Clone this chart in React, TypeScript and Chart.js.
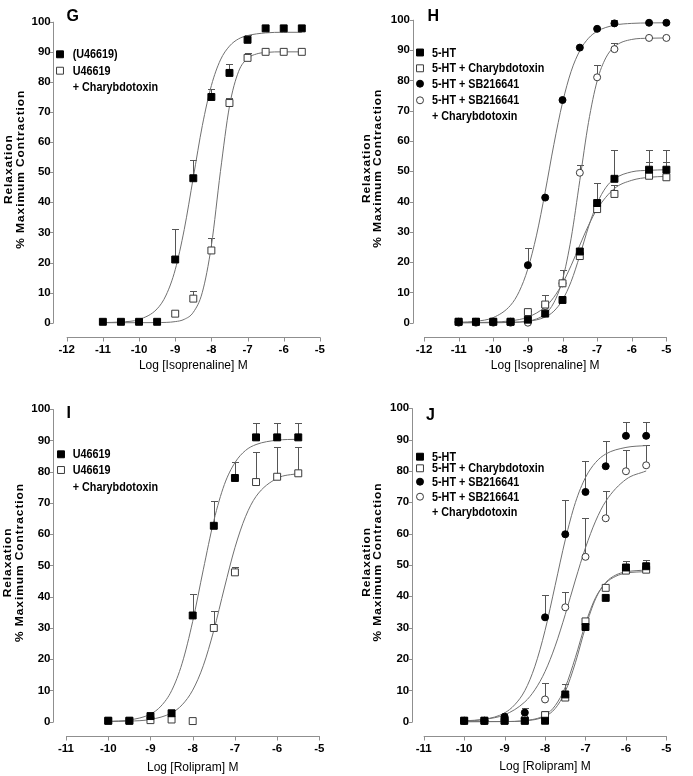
import React, { useEffect, useRef } from "react";
import { Chart, registerables } from "chart.js";

Chart.register(...registerables);

// ===================== DATA =====================
// Shared axis ranges / tick steps
const Y_RANGE = [0, 100];
const Y_STEP = 10;
const G_X_RANGE = [-12, -5];
const H_X_RANGE = [-12, -5];
const I_X_RANGE = [-11, -5];
const J_X_RANGE = [-11, -5];
const X_STEP = 1;

const Y_TITLE = ["Relaxation", "% Maximum Contraction"];
const ISO_TITLE = "Log [Isoprenaline] M";
const ROLI_TITLE = "Log [Rolipram] M";

// ---- Panel G (isoprenaline, U46619) ----
const G_U_DOSE = [-11, -10.5, -10, -9.5, -9, -8.5, -8, -7.5, -7, -6.5, -6, -5.5];
const G_U_MEAN = [0.3, 0.3, 0.3, 0.3, 21, 48, 75, 83, 94, 97.8, 97.8, 97.8];
const G_U_SEM = [0, 0, 0, 0, 10, 6, 2.5, 3, 1.5, 0, 0, 0];
const G_C_DOSE = [-9, -8.5, -8, -7.5, -7, -6.5, -6, -5.5];
const G_C_MEAN = [3, 8, 24, 73, 88, 90, 90, 90];
const G_C_SEM = [1, 2.5, 4, 1.5, 1.5, 0, 0, 0];
const G_U_FIT_X = [-11, -10.5, -10, -9.5, -9.25, -9, -8.75, -8.5, -8.25, -8, -7.75, -7.5, -7.25, -7, -6.5, -6, -5.5];
const G_U_FIT_Y = [0.05, 0.24, 1.07, 4.6, 9.2, 17.6, 31.0, 48.25, 65.5, 78.8, 87.3, 91.9, 94.3, 95.4, 96.3, 96.5, 96.5];
const G_C_FIT_X = [-11, -10, -9.5, -9, -8.75, -8.5, -8.25, -8, -7.75, -7.5, -7.25, -7, -6.75, -6.5, -6, -5.5];
const G_C_FIT_Y = [0, 0, 0.04, 0.36, 1.12, 3.45, 10.1, 25.6, 50.2, 71.9, 83.4, 87.8, 89.3, 89.8, 90, 90];
const G_LEGEND = ["(U46619)", "U46619", "+ Charybdotoxin"];

// ---- Panel H (isoprenaline, 5-HT) ----
const H_DOSE = [-11, -10.5, -10, -9.5, -9, -8.5, -8, -7.5, -7, -6.5, -5.5, -5];
const H_5HT_MEAN = [0.3, 0.3, 0.3, 0.3, 1, 3, 7.5, 23.5, 39.5, 47.5, 50.5, 50.5];
const H_5HT_SEM = [0, 0, 0, 0, 0, 0, 0, 0, 6.5, 9.5, 6.5, 6.5];
const H_CTX_MEAN = [0.3, 0.3, 0.3, 0.3, 3.5, 6, 13, 22, 37.5, 42.5, 48.5, 48];
const H_CTX_SEM = [0, 0, 0, 0, 0.5, 3, 4.5, 0, 0, 3, 4.5, 5];
const H_SB_MEAN = [0.3, 0.3, 0.3, 0.3, 19, 41.3, 73.5, 90.8, 97, 98.8, 99, 99];
const H_SB_SEM = [0, 0, 0, 0, 5.5, 0, 0, 0, 0, 1, 0, 0];
const H_SBC_MEAN = [0, 0, 0, 0, 0, 5.5, 13, 49.5, 81, 90.3, 94, 94];
const H_SBC_SEM = [0, 0, 0, 0, 0, 0, 0, 2.5, 4, 2, 0, 0];
const H_SB_FIT_X = [-11, -10.5, -10, -9.5, -9.25, -9, -8.75, -8.5, -8.25, -8, -7.75, -7.5, -7.25, -7, -6.5, -6, -5.5, -5];
const H_SB_FIT_Y = [0.14, 0.48, 1.69, 5.75, 10.3, 17.8, 28.9, 43.2, 58.8, 72.6, 83.0, 89.8, 93.9, 96.2, 98.2, 98.8, 98.95, 99];
const H_SBC_FIT_X = [-11, -10, -9.5, -9, -8.75, -8.5, -8.25, -8, -7.75, -7.5, -7.25, -7, -6.75, -6.5, -6, -5.5, -5];
const H_SBC_FIT_Y = [0, 0.02, 0.09, 0.53, 1.24, 2.88, 6.6, 14.2, 27.9, 47, 66.1, 79.8, 87.4, 91.1, 93.5, 93.9, 94];
const H_5HT_FIT_X = [-11, -10, -9.5, -9, -8.5, -8.25, -8, -7.75, -7.5, -7.25, -7, -6.75, -6.5, -6, -5.5, -5];
const H_5HT_FIT_Y = [0, 0.02, 0.1, 0.43, 1.87, 3.8, 7.5, 13.6, 22.2, 31.6, 39.4, 44.6, 47.5, 49.8, 50.3, 50.5];
const H_CTX_FIT_X = [-11, -10.5, -10, -9.5, -9, -8.5, -8.25, -8, -7.75, -7.5, -7.25, -7, -6.5, -6, -5.5, -5];
const H_CTX_FIT_Y = [0.02, 0.07, 0.2, 0.62, 1.83, 5.2, 8.4, 13.0, 18.9, 25.6, 32.1, 37.5, 44.3, 47.0, 48.0, 48.3];
const H_LEGEND = ["5-HT", "5-HT + Charybdotoxin", "5-HT + SB216641", "5-HT + SB216641", "+ Charybdotoxin"];

// ---- Panel I (rolipram, U46619) ----
const I_DOSE = [-10, -9.5, -9, -8.5, -8, -7.5, -7, -6.5, -6, -5.5];
const I_U_MEAN = [0.3, 0.3, 1.8, 2.7, 34, 62.7, 78, 91, 91, 91];
const I_U_SEM = [0, 0, 0, 0, 6.8, 8, 5, 4.5, 4.5, 4.5];
const I_C_MEAN = [0.3, 0.3, 0.5, 0.7, 0.2, 30, 47.8, 76.7, 78.4, 79.5];
const I_C_SEM = [0, 0, 0, 0, 0, 5.5, 1.6, 9.5, 9.5, 8.5];
const I_U_FIT_X = [-10, -9.5, -9, -8.75, -8.5, -8.25, -8, -7.75, -7.5, -7.25, -7, -6.75, -6.5, -6, -5.5];
const I_U_FIT_Y = [0.12, 0.55, 2.43, 5.0, 9.9, 18.7, 32.1, 48.6, 64.3, 75.9, 82.9, 86.8, 88.7, 90.1, 90.4];
const I_C_FIT_X = [-10, -9.5, -9, -8.5, -8.25, -8, -7.75, -7.5, -7.25, -7, -6.75, -6.5, -6, -5.5];
const I_C_FIT_Y = [0.05, 0.18, 0.72, 2.8, 5.4, 10.1, 17.9, 29.2, 42.8, 55.7, 65.6, 72.1, 77.9, 79.45];
const I_LEGEND = ["U46619", "U46619", "+ Charybdotoxin"];

// ---- Panel J (rolipram, 5-HT) ----
const J_DOSE = [-10, -9.5, -9, -8.5, -8, -7.5, -7, -6.5, -6, -5.5];
const J_5HT_MEAN = [0.3, 0.3, 0.3, 0.3, 0.3, 8.7, 30.2, 39.5, 49.2, 49.6];
const J_5HT_SEM = [0, 0, 0, 0, 0, 3.2, 0, 0, 2, 2];
const J_CTX_MEAN = [0.3, 0.3, 0.3, 0.3, 2.1, 7.7, 32, 42.7, 48.2, 48.5];
const J_CTX_SEM = [0, 0, 0, 0, 1.4, 0, 0, 0, 0, 0];
const J_SB_MEAN = [0.3, 0.3, 1.6, 2.9, 33.3, 59.8, 73.3, 81.5, 91.2, 91.2];
const J_SB_SEM = [0, 0, 0, 1.5, 7.2, 10.9, 9.8, 8, 4.4, 4.4];
const J_SBC_MEAN = [0.3, 0.3, 0.5, 1, 7.1, 36.5, 52.6, 64.9, 79.9, 81.8];
const J_SBC_SEM = [0, 0, 0, 0, 5.3, 4.8, 12.3, 8.6, 6.9, 6.4];
const J_SB_FIT_X = [-10, -9.5, -9, -8.75, -8.5, -8.25, -8, -7.75, -7.5, -7.25, -7, -6.75, -6.5, -6, -5.5];
const J_SB_FIT_Y = [0.19, 0.73, 2.8, 5.4, 9.9, 17.7, 29.1, 43.5, 58.0, 69.9, 77.9, 82.7, 85.4, 87.5, 88.1];
const J_SBC_FIT_X = [-10, -9.5, -9, -8.5, -8.25, -8, -7.75, -7.5, -7.25, -7, -6.75, -6.5, -6, -5.5];
const J_SBC_FIT_Y = [0.26, 0.77, 2.2, 6.3, 10.2, 16.0, 24.1, 34.2, 45.2, 55.5, 64.0, 70.3, 77.3, 80.0];
const J_SQ_FIT_X = [-10, -9, -8.5, -8, -7.75, -7.5, -7.25, -7, -6.75, -6.5, -6.25, -6, -5.5];
const J_5HT_FIT_Y = [0, 0.04, 0.27, 1.7, 4.2, 9.6, 18.8, 30.1, 39.2, 44.4, 46.8, 47.8, 48.4];
const J_CTX_FIT_Y = [0, 0.06, 0.35, 2.1, 5.1, 11.0, 20.5, 31.3, 39.6, 44.2, 46.4, 47.4, 47.9];
const J_LEGEND = ["5-HT", "5-HT + Charybdotoxin", "5-HT + SB216641", "5-HT + SB216641", "+ Charybdotoxin"];

// ===================== STYLE =====================
const SANS = "'Liberation Sans', Arial, Helvetica, sans-serif";
const AXIS_GRAY = "#8f8f8f";
const CURVE_GRAY = "#707070";
const ERR_GRAY = "#555555";
const TEXT_SQUEEZE = 0.83;

type MarkerKey = "sq" | "osq" | "ci" | "oci";
const MARKERS: Record<MarkerKey, { shape: string; r: number; fill: string; stroke: string }> = {
  sq: { shape: "rect", r: 4.9, fill: "#000000", stroke: "#000000" },
  osq: { shape: "rect", r: 4.9, fill: "#ffffff", stroke: "#3a3a3a" },
  ci: { shape: "circle", r: 3.5, fill: "#000000", stroke: "#000000" },
  oci: { shape: "circle", r: 3.5, fill: "#ffffff", stroke: "#3a3a3a" },
};

type Series = { dose: number[]; mean: number[]; sem: number[]; style: MarkerKey };
type Curve = { x: number[]; y: number[] };
type LegendRow = { style: MarkerKey | null; text: string; y: number };
type PanelCfg = {
  letter: string;
  letterX: number;
  letterY: number;
  left: number;
  top: number;
  w: number;
  h: number;
  area: { l: number; t: number; r: number; b: number };
  xRange: number[];
  xTitle: string;
  xTitlePad: number;
  yGap: number;
  xGap: number;
  yTickPad: number;
  xTickPad: number;
  yTitleX: number[];
  legendMarkerX: number;
  legendTextX: number;
  legend: LegendRow[];
  series: Series[];
  curves: Curve[];
};

const PANELS: PanelCfg[] = [
  {
    letter: "G", letterX: 66.5, letterY: 16,
    left: 0, top: 0, w: 346, h: 388,
    area: { l: 66.7, t: 7, r: 328, b: 322.7 },
    xRange: G_X_RANGE, xTitle: ISO_TITLE, xTitlePad: 15,
    yGap: 13.4, xGap: 14, yTickPad: 16, xTickPad: 21,
    yTitleX: [9, 20.7],
    legendMarkerX: 60, legendTextX: 72.7,
    legend: [
      { style: "sq", text: G_LEGEND[0], y: 54.3 },
      { style: "osq", text: G_LEGEND[1], y: 70.7 },
      { style: null, text: G_LEGEND[2], y: 86.7 },
    ],
    series: [
      { dose: G_U_DOSE, mean: G_U_MEAN, sem: G_U_SEM, style: "sq" },
      { dose: G_C_DOSE, mean: G_C_MEAN, sem: G_C_SEM, style: "osq" },
    ],
    curves: [
      { x: G_U_FIT_X, y: G_U_FIT_Y },
      { x: G_C_FIT_X, y: G_C_FIT_Y },
    ],
  },
  {
    letter: "H", letterX: 81.5, letterY: 16.2,
    left: 346, top: 0, w: 347, h: 388,
    area: { l: 78, t: 7, r: 340, b: 322.7 },
    xRange: H_X_RANGE, xTitle: ISO_TITLE, xTitlePad: 15,
    yGap: 11.3, xGap: 14, yTickPad: 14, xTickPad: 21.5,
    yTitleX: [20.7, 31.7],
    legendMarkerX: 74, legendTextX: 86,
    legend: [
      { style: "sq", text: H_LEGEND[0], y: 52.5 },
      { style: "osq", text: H_LEGEND[1], y: 68.3 },
      { style: "ci", text: H_LEGEND[2], y: 83.7 },
      { style: "oci", text: H_LEGEND[3], y: 100.3 },
      { style: null, text: H_LEGEND[4], y: 115.5 },
    ],
    series: [
      { dose: H_DOSE, mean: H_5HT_MEAN, sem: H_5HT_SEM, style: "sq" },
      { dose: H_DOSE, mean: H_SB_MEAN, sem: H_SB_SEM, style: "ci" },
      { dose: H_DOSE, mean: H_CTX_MEAN, sem: H_CTX_SEM, style: "osq" },
      { dose: H_DOSE, mean: H_SBC_MEAN, sem: H_SBC_SEM, style: "oci" },
    ],
    curves: [
      { x: H_SB_FIT_X, y: H_SB_FIT_Y },
      { x: H_SBC_FIT_X, y: H_SBC_FIT_Y },
      { x: H_5HT_FIT_X, y: H_5HT_FIT_Y },
      { x: H_CTX_FIT_X, y: H_CTX_FIT_Y },
    ],
  },
  {
    letter: "I", letterX: 66.5, letterY: 25.3,
    left: 0, top: 388, w: 346, h: 388,
    area: { l: 66, t: 18.7, r: 328, b: 333.7 },
    xRange: I_X_RANGE, xTitle: ROLI_TITLE, xTitlePad: 1.5,
    yGap: 12.7, xGap: 14, yTickPad: 15.5, xTickPad: 21.5,
    yTitleX: [8.5, 20],
    legendMarkerX: 61, legendTextX: 72.7,
    legend: [
      { style: "sq", text: I_LEGEND[0], y: 66.3 },
      { style: "osq", text: I_LEGEND[1], y: 82 },
      { style: null, text: I_LEGEND[2], y: 98.7 },
    ],
    series: [
      { dose: I_DOSE, mean: I_U_MEAN, sem: I_U_SEM, style: "sq" },
      { dose: I_DOSE, mean: I_C_MEAN, sem: I_C_SEM, style: "osq" },
    ],
    curves: [
      { x: I_U_FIT_X, y: I_U_FIT_Y },
      { x: I_C_FIT_X, y: I_C_FIT_Y },
    ],
  },
  {
    letter: "J", letterX: 80, letterY: 26.7,
    left: 346, top: 388, w: 347, h: 388,
    area: { l: 77.7, t: 18.7, r: 340, b: 333.7 },
    xRange: J_X_RANGE, xTitle: ROLI_TITLE, xTitlePad: 2,
    yGap: 12, xGap: 14, yTickPad: 14.5, xTickPad: 21.5,
    yTitleX: [20.7, 32.3],
    legendMarkerX: 74, legendTextX: 86,
    legend: [
      { style: "sq", text: J_LEGEND[0], y: 68.7 },
      { style: "osq", text: J_LEGEND[1], y: 80.3 },
      { style: "ci", text: J_LEGEND[2], y: 93.7 },
      { style: "oci", text: J_LEGEND[3], y: 108.7 },
      { style: null, text: J_LEGEND[4], y: 124.3 },
    ],
    series: [
      { dose: J_DOSE, mean: J_5HT_MEAN, sem: J_5HT_SEM, style: "sq" },
      { dose: J_DOSE, mean: J_SB_MEAN, sem: J_SB_SEM, style: "ci" },
      { dose: J_DOSE, mean: J_CTX_MEAN, sem: J_CTX_SEM, style: "osq" },
      { dose: J_DOSE, mean: J_SBC_MEAN, sem: J_SBC_SEM, style: "oci" },
    ],
    curves: [
      { x: J_SB_FIT_X, y: J_SB_FIT_Y },
      { x: J_SBC_FIT_X, y: J_SBC_FIT_Y },
      { x: J_SQ_FIT_X, y: J_5HT_FIT_Y },
      { x: J_SQ_FIT_X, y: J_CTX_FIT_Y },
    ],
  },
];

// ===================== DRAWING HELPERS =====================
function drawMarker(ctx: CanvasRenderingContext2D, key: MarkerKey, x: number, y: number) {
  const m = MARKERS[key];
  ctx.save();
  ctx.fillStyle = m.fill;
  ctx.strokeStyle = m.stroke;
  ctx.lineWidth = 1;
  ctx.beginPath();
  if (m.shape === "rect") {
    const s = m.r * Math.SQRT1_2;
    ctx.rect(x - s, y - s, 2 * s, 2 * s);
  } else {
    ctx.arc(x, y, m.r, 0, Math.PI * 2);
  }
  ctx.fill();
  ctx.stroke();
  ctx.restore();
}

function buildConfig(cfg: PanelCfg): any {
  const datasets: any[] = [];
  cfg.series.forEach((s) => {
    const st = MARKERS[s.style];
    datasets.push({
      data: s.dose.map((x, i) => ({ x, y: s.mean[i] })),
      showLine: false,
      pointStyle: st.shape,
      pointRadius: st.r,
      pointHoverRadius: st.r,
      pointBackgroundColor: st.fill,
      pointBorderColor: st.stroke,
      pointBorderWidth: 1,
      clip: false,
    });
  });
  cfg.curves.forEach((c) => {
    datasets.push({
      data: c.x.map((x, i) => ({ x, y: c.y[i] })),
      showLine: true,
      pointRadius: 0,
      pointHoverRadius: 0,
      borderColor: CURVE_GRAY,
      borderWidth: 1,
      cubicInterpolationMode: "monotone",
      fill: false,
      clip: false,
    });
  });

  const decor = {
    id: "decor" + cfg.letter,
    beforeDatasetsDraw(chart: any) {
      const ctx: CanvasRenderingContext2D = chart.ctx;
      const xs = chart.scales.x;
      const ys = chart.scales.y;
      ctx.save();
      ctx.strokeStyle = ERR_GRAY;
      ctx.lineWidth = 1;
      cfg.series.forEach((s) => {
        s.dose.forEach((d, i) => {
          const e = s.sem[i];
          if (!e) return;
          const px = Math.round(xs.getPixelForValue(d)) + 0.5;
          const y0 = ys.getPixelForValue(s.mean[i]);
          const y1 = Math.round(ys.getPixelForValue(s.mean[i] + e)) + 0.5;
          ctx.beginPath();
          ctx.moveTo(px, y0);
          ctx.lineTo(px, y1);
          ctx.moveTo(px - 3.5, y1);
          ctx.lineTo(px + 3.5, y1);
          ctx.stroke();
        });
      });
      ctx.restore();
    },
    afterDraw(chart: any) {
      const ctx: CanvasRenderingContext2D = chart.ctx;
      const a = chart.chartArea;
      const xs = chart.scales.x;
      const ys = chart.scales.y;
      ctx.save();
      // axes (offset, Prism style)
      ctx.strokeStyle = AXIS_GRAY;
      ctx.lineWidth = 1;
      const yx = Math.round(a.left - cfg.yGap) + 0.5;
      ctx.beginPath();
      ctx.moveTo(yx, ys.getPixelForValue(Y_RANGE[0]) + 0.5);
      ctx.lineTo(yx, ys.getPixelForValue(Y_RANGE[1]));
      ys.ticks.forEach((t: any) => {
        const py = Math.round(ys.getPixelForValue(t.value)) + 0.5;
        ctx.moveTo(yx - 3.5, py);
        ctx.lineTo(yx, py);
      });
      const xy = Math.round(a.bottom + cfg.xGap) + 0.5;
      ctx.moveTo(xs.getPixelForValue(cfg.xRange[0]), xy);
      ctx.lineTo(xs.getPixelForValue(cfg.xRange[1]) + 0.5, xy);
      xs.ticks.forEach((t: any) => {
        const px = Math.round(xs.getPixelForValue(t.value)) + 0.5;
        ctx.moveTo(px, xy);
        ctx.lineTo(px, xy + 4);
      });
      ctx.stroke();

      // y title (two rotated lines)
      ctx.fillStyle = "#000";
      ctx.font = "bold 12px " + SANS;
      (ctx as any).letterSpacing = "0.9px";
      ctx.textAlign = "center";
      ctx.textBaseline = "middle";
      const cy = (a.top + a.bottom) / 2 - 3;
      Y_TITLE.forEach((line, i) => {
        ctx.save();
        ctx.translate(cfg.yTitleX[i], cy);
        ctx.rotate(-Math.PI / 2);
        ctx.scale(1, 0.9);
        ctx.fillText(line, 0, 0);
        ctx.restore();
      });
      (ctx as any).letterSpacing = "0px";

      // legend
      ctx.font = "bold 13px " + SANS;
      ctx.textAlign = "left";
      ctx.textBaseline = "middle";
      cfg.legend.forEach((row) => {
        if (row.style) drawMarker(ctx, row.style, cfg.legendMarkerX, row.y);
        ctx.save();
        ctx.translate(cfg.legendTextX, row.y + 0.5);
        ctx.scale(TEXT_SQUEEZE, 1);
        ctx.fillStyle = "#000";
        ctx.fillText(row.text, 0, 0);
        ctx.restore();
      });

      // panel letter
      ctx.font = "bold 16px " + SANS;
      ctx.fillStyle = "#000";
      ctx.fillText(cfg.letter, cfg.letterX, cfg.letterY + 0.5);
      ctx.restore();
    },
  };

  return {
    type: "scatter",
    data: { datasets },
    options: {
      animation: false,
      responsive: false,
      maintainAspectRatio: false,
      events: [],
      layout: {
        padding: { left: 0, top: cfg.area.t, right: cfg.w - cfg.area.r, bottom: 0 },
      },
      plugins: { legend: { display: false }, tooltip: { enabled: false } },
      scales: {
        x: {
          type: "linear",
          position: "bottom",
          min: cfg.xRange[0],
          max: cfg.xRange[1],
          grid: { display: false, drawTicks: false },
          border: { display: false },
          ticks: {
            stepSize: X_STEP,
            autoSkip: false,
            maxRotation: 0,
            padding: cfg.xTickPad,
            color: "#000",
            font: { family: SANS, size: 11.5, weight: "bold", lineHeight: 1 },
            callback: (v: any) => String(v),
          },
          title: {
            display: true,
            text: cfg.xTitle,
            color: "#000",
            font: { family: SANS, size: 12, weight: "normal", lineHeight: 1.2 },
            padding: { top: 0, bottom: cfg.xTitlePad },
          },
          afterFit: (s: any) => {
            s.height = cfg.h - cfg.area.b;
          },
        },
        y: {
          type: "linear",
          position: "left",
          min: Y_RANGE[0],
          max: Y_RANGE[1],
          grid: { display: false, drawTicks: false },
          border: { display: false },
          ticks: {
            stepSize: Y_STEP,
            padding: cfg.yTickPad,
            color: "#000",
            font: { family: SANS, size: 11.5, weight: "bold", lineHeight: 1 },
          },
          afterFit: (s: any) => {
            s.width = cfg.area.l;
          },
        },
      },
    },
    plugins: [decor],
  };
}

function Panel({ cfg }: { cfg: PanelCfg }) {
  const ref = useRef<HTMLCanvasElement | null>(null);
  useEffect(() => {
    if (!ref.current) return;
    const chart = new Chart(ref.current, buildConfig(cfg));
    return () => chart.destroy();
  }, [cfg]);
  return (
    <canvas
      ref={ref}
      width={cfg.w}
      height={cfg.h}
      style={{ position: "absolute", left: cfg.left, top: cfg.top, width: cfg.w, height: cfg.h }}
    />
  );
}

export default function App() {
  return (
    <div
      style={{
        position: "absolute",
        left: 0,
        top: 0,
        width: 693,
        height: 776,
        background: "#ffffff",
        overflow: "hidden",
      }}
    >
      {PANELS.map((p) => (
        <Panel key={p.letter} cfg={p} />
      ))}
    </div>
  );
}
